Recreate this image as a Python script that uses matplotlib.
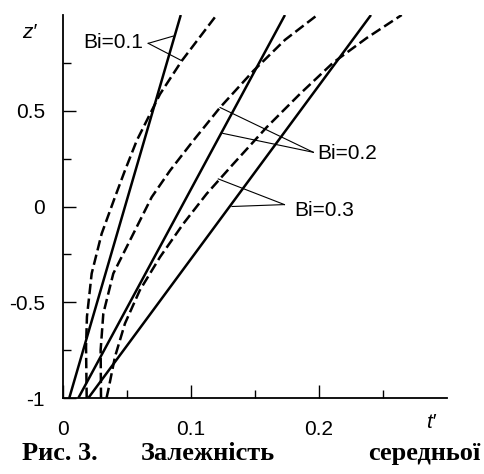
import matplotlib
matplotlib.use('Agg')
import matplotlib.pyplot as plt

plt.rcParams['font.family'] = ['Liberation Sans', 'DejaVu Sans']
plt.rcParams['lines.scale_dashes'] = False

# Прямі лінії (суцільні) для Bi = 0.1, 0.2, 0.3
solid_z = [-1.0, 1.0]
solid_t_01 = [0.0049, 0.092]
solid_t_02 = [0.012, 0.1734]
solid_t_03 = [0.0198, 0.2406]

# Штрихові криві
dash_t_01 = [0.0185, 0.018, 0.0187, 0.0224, 0.0302, 0.0406, 0.0484, 0.0576, 0.068, 0.0758, 0.0927, 0.120]
dash_z_01 = [-1.0, -0.733, -0.576, -0.35, -0.142, 0.049, 0.188, 0.344, 0.483, 0.587, 0.760, 1.0]

dash_t_02 = [0.0297, 0.0294, 0.0315, 0.0393, 0.0536, 0.0693, 0.0836, 0.1018, 0.1227, 0.1487, 0.1734, 0.1987]
dash_z_02 = [-1.0, -0.75, -0.559, -0.35, -0.16, 0.049, 0.1875, 0.344, 0.517, 0.708, 0.87, 1.0]

dash_t_03 = [0.034, 0.0354, 0.0406, 0.0484, 0.060, 0.0758, 0.094, 0.1122, 0.133, 0.159, 0.185, 0.2112, 0.2373, 0.2646]
dash_z_03 = [-1.0, -0.958, -0.785, -0.611, -0.4375, -0.264, -0.09, 0.066, 0.222, 0.413, 0.587, 0.752, 0.88, 1.0]

# Підписи та виноски
bi_labels = ['Bi=0.1', 'Bi=0.2', 'Bi=0.3']
label_pos = [(0.0156, 0.859), (0.199, 0.276), (0.181, -0.021)]
leader_apex = [(0.0666, 0.852), (0.1956, 0.283), (0.173, 0.01)]
leader_ends = [[(0.0862, 0.89), (0.092, 0.764)],
               [(0.1227, 0.517), (0.1248, 0.382)],
               [(0.1213, 0.144), (0.132, 0.0)]]

xticks_major = [0, 0.1, 0.2]
xticks_minor = [0.05, 0.15, 0.25]
yticks_major = [-1, -0.5, 0, 0.5]
yticks_minor = [-0.75, -0.25, 0.25, 0.75]
ytick_labels = ['-1', '-0.5', '0', '0.5']
xtick_labels = ['0', '0.1', '0.2']

fig = plt.figure(figsize=(4.85, 4.74), dpi=100)
ax = fig.add_axes([63 / 485, 76 / 474, 384 / 485, 383 / 474])

lw_s = 1.8
lw_d = 1.8
for st in [solid_t_01, solid_t_02, solid_t_03]:
    ax.plot(st, solid_z, color='black', lw=lw_s, solid_capstyle='butt')
for dt, dz in [(dash_t_01, dash_z_01), (dash_t_02, dash_z_02), (dash_t_03, dash_z_03)]:
    ax.plot(dt, dz, color='black', lw=lw_d, dashes=(7.5, 3.2), solid_joinstyle='round')

for lab, pos, apex, ends in zip(bi_labels, label_pos, leader_apex, leader_ends):
    ax.text(pos[0], pos[1], lab, fontsize=15, ha='left', va='center')
    for e in ends:
        ax.plot([apex[0], e[0]], [apex[1], e[1]], color='black', lw=0.8)

ax.set_xlim(0, 0.3)
ax.set_ylim(-1, 1)
ax.spines['top'].set_visible(False)
ax.spines['right'].set_visible(False)
ax.spines['left'].set_linewidth(1.3)
ax.spines['bottom'].set_linewidth(1.3)

ax.set_xticks(xticks_major)
ax.set_xticklabels(xtick_labels)
ax.set_xticks(xticks_minor, minor=True)
ax.set_yticks(yticks_major)
ax.set_yticklabels(ytick_labels)
ax.set_yticks(yticks_minor, minor=True)
ax.tick_params(which='major', direction='in', length=9.5, width=1.0, labelsize=15)
ax.tick_params(which='minor', direction='in', length=6, width=1.0)
ax.tick_params(axis='x', which='major', pad=16)
ax.tick_params(axis='y', which='major', pad=13)

ax.text(-0.0266, 0.911, 'z′', fontsize=15, style='italic', ha='center', va='center')
ax.text(0.287, -1.13, 't′', fontsize=15, style='italic', ha='center', va='center', clip_on=False)

cap_y = (474 - 460) / 474
fig.text(22 / 485, cap_y, 'Рис. 3.', family='Liberation Serif', weight='bold', fontsize=19, ha='left', va='baseline')
fig.text(207.5 / 485, cap_y, 'Залежність', family='Liberation Serif', weight='bold', fontsize=19, ha='center', va='baseline')
fig.text(480 / 485, cap_y, 'середньої', family='Liberation Serif', weight='bold', fontsize=19, ha='right', va='baseline')

fig.savefig('out.png', dpi=100)
